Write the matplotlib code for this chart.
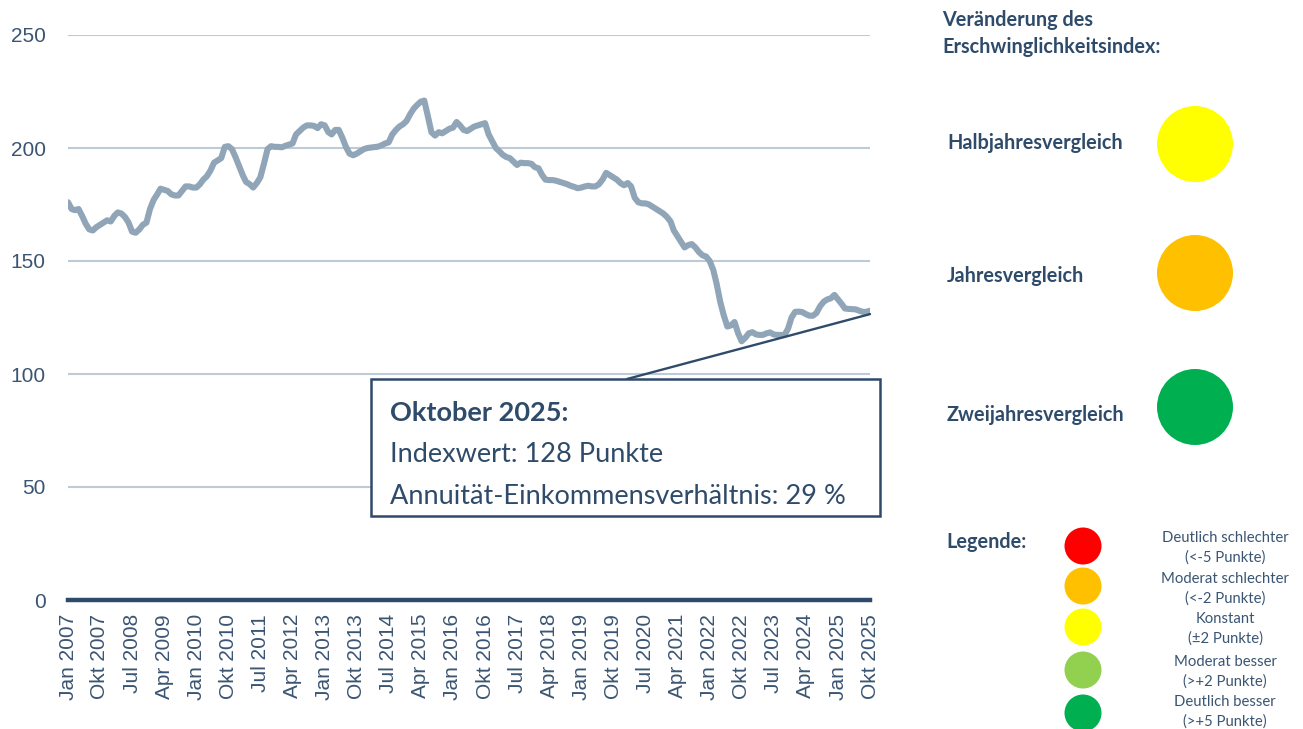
import matplotlib
matplotlib.use('Agg')
import numpy as np
import pandas as pd
import matplotlib.dates as mdates
from matplotlib import pyplot as plt
from matplotlib.patches import Circle, Rectangle, ConnectionPatch

# monthly affordability index, Jan 2007 .. Okt 2025
index_values = [
    176, 173, 172.5, 173, 170, 166.5, 164, 163.5, 165, 166, 167, 168,          # 2007
    167.5, 170, 171.5, 171, 169.5, 167, 163, 162.5, 164, 166, 167, 173,        # 2008
    177, 179.5, 182, 181.5, 181, 179.5, 179, 179, 181, 183, 183, 182.5,        # 2009
    182.5, 184, 186, 187.5, 190, 193.5, 194.5, 195.5, 200.5, 200.8, 199.5, 196,  # 2010
    192, 188, 185, 184, 182.5, 184.5, 187, 193, 199.5, 200.8, 200.5, 200.5,    # 2011
    200.3, 201, 201.5, 202, 206, 207.5, 209, 210, 210, 209.8, 208.8, 210.5,    # 2012
    210, 207, 206, 208, 208, 204.5, 200.5, 197.5, 196.8, 197.5, 198.5, 199.5,  # 2013
    200, 200.2, 200.4, 200.6, 201.2, 202, 202.5, 206, 208, 209.5, 210.5, 212,  # 2014
    215, 217.5, 219, 220.5, 221, 214, 207, 205.5, 207, 206.5, 207.5, 208.5,    # 2015
    209, 211.5, 210, 208, 207.5, 208.5, 209.5, 210, 210.5, 211, 206, 203,      # 2016
    200, 198.5, 197, 196, 195.5, 194, 192.5, 193.5, 193.3, 193.3, 193, 191.5,  # 2017
    191, 188, 186, 185.8, 185.8, 185.5, 185, 184.5, 184, 183.3, 182.8, 182.2,  # 2018
    182.5, 183, 183.3, 183, 183, 184, 186, 189, 188, 187, 186, 184.5,          # 2019
    183.5, 184.5, 183, 178, 176, 175.5, 175.5, 175, 174, 173, 172, 171,        # 2020
    169.5, 167.5, 163.5, 161, 158.5, 156, 157, 157.5, 156, 154, 152.5, 152,    # 2021
    150, 146, 140, 132, 126, 121, 121.5, 123, 118, 114.5, 116, 118,            # 2022
    118.5, 117.5, 117.3, 117.3, 118, 118.4, 117.5, 117.3, 117.3, 117.2, 120, 125,  # 2023
    127.5, 127.6, 127.4, 126.5, 125.8, 125.8, 127, 130, 132, 133, 133.5, 135,  # 2024
    133, 131, 129, 128.8, 128.7, 128.6, 128, 127.5, 127.5, 128,                # 2025
]
dates = pd.date_range('2007-01-01', periods=len(index_values), freq='MS')

tick_labels = [
    'Jan 2007', 'Okt 2007', 'Jul 2008', 'Apr 2009', 'Jan 2010', 'Okt 2010',
    'Jul 2011', 'Apr 2012', 'Jan 2013', 'Okt 2013', 'Jul 2014', 'Apr 2015',
    'Jan 2016', 'Okt 2016', 'Jul 2017', 'Apr 2018', 'Jan 2019', 'Okt 2019',
    'Jul 2020', 'Apr 2021', 'Jan 2022', 'Okt 2022', 'Jul 2023', 'Apr 2024',
    'Jan 2025', 'Okt 2025',
]
y_ticks = [0, 50, 100, 150, 200, 250]

box_title = 'Oktober 2025:'
box_lines = ['Indexwert: 128 Punkte', 'Annuität-Einkommensverhältnis: 29 %']

panel_title = ['Veränderung des', 'Erschwinglichkeitsindex:']
comparisons = ['Halbjahresvergleich', 'Jahresvergleich', 'Zweijahresvergleich']
comparison_colors = ['#ffff00', '#ffc000', '#00b050']

legend_title = 'Legende:'
legend_labels = [
    ('Deutlich schlechter', '(<-5 Punkte)'),
    ('Moderat schlechter', '(<-2 Punkte)'),
    ('Konstant', '(±2 Punkte)'),
    ('Moderat besser', '(>+2 Punkte)'),
    ('Deutlich besser', '(>+5 Punkte)'),
]
legend_colors = ['#ff0000', '#ffc000', '#ffff00', '#92d050', '#00b050']

NAVY = '#2f4b6a'
TEXT = '#3a5573'
LINE = '#91a5b8'
GRID = '#bdcbd8'
PANEL_FONT = ['Lato', 'DejaVu Sans']
TICK_FONT = ['Liberation Sans', 'DejaVu Sans']

W, H = 1303, 729
fig = plt.figure(figsize=(W / 100, H / 100), dpi=100)

# main chart, placed in pixel terms of the reference
ax = fig.add_axes([68 / W, 1 - 600 / H, (870 - 68) / W, (600 - 35) / H])
ax.plot(dates, index_values, color=LINE, lw=4.4, solid_capstyle='round',
        solid_joinstyle='round', zorder=3)
ax.set_xlim(dates[0], dates[-1])
ax.set_ylim(0, 250)
ax.set_yticks(y_ticks)
for y in y_ticks[1:]:
    ax.axhline(y, color=GRID, lw=1.5, zorder=1)
ax.axhline(0, color=NAVY, lw=3.2, zorder=4, clip_on=False)
ax.set_xticks(dates[::9])
ax.set_xticklabels(tick_labels, rotation=90, ha='center', va='top')
for lab in ax.get_xticklabels() + ax.get_yticklabels():
    lab.set_family(TICK_FONT)
    lab.set_fontsize(15)
    lab.set_color(TEXT)
ax.tick_params(axis='both', length=0)
ax.tick_params(axis='x', pad=10)
ax.tick_params(axis='y', pad=16)
for s in ax.spines.values():
    s.set_visible(False)
ax.set_facecolor('none')

# overlay in pixel coordinates for box and side panel
ov = fig.add_axes([0, 0, 1, 1], zorder=10)
ov.set_xlim(0, W)
ov.set_ylim(H, 0)
ov.axis('off')
ov.patch.set_alpha(0)

ov.add_patch(Rectangle((371, 379), 509, 137, facecolor='white', edgecolor=NAVY,
                       lw=1.8, zorder=2))
last_x = mdates.date2num(dates[-1].to_pydatetime())
con = ConnectionPatch(xyA=(627, 379), coordsA=ov.transData,
                      xyB=(last_x, index_values[-1] - 1.5), coordsB=ax.transData,
                      color=NAVY, lw=1.7, zorder=1)
fig.add_artist(con)
ov.text(390, 413, box_title, fontsize=19.5, fontweight='bold', color=NAVY,
        family=PANEL_FONT, va='center')
for i, line in enumerate(box_lines):
    ov.text(390, 454 + i * 42, line, fontsize=19.5, color=NAVY,
            family=PANEL_FONT, va='center')

# side panel
for i, t in enumerate(panel_title):
    ov.text(942, 20 + i * 27, t, fontsize=14.3, fontweight='bold', color=NAVY,
            family=PANEL_FONT, va='center')
for i, (name, col) in enumerate(zip(comparisons, comparison_colors)):
    yc = [144, 273, 407][i]
    ov.text(947, [143, 276, 415][i], name, fontsize=14.3, fontweight='bold',
            color=NAVY, family=PANEL_FONT, va='center')
    ov.add_patch(Circle((1195, yc), 38, facecolor=col, edgecolor='none'))

ov.text(946, 542, legend_title, fontsize=14.3, fontweight='bold', color=NAVY,
        family=PANEL_FONT, va='center')
for i, ((l1, l2), col) in enumerate(zip(legend_labels, legend_colors)):
    yc = [546, 586, 627, 670, 713][i]
    ov.add_patch(Circle((1083, yc), 18.5, facecolor=col, edgecolor='none'))
    yt = [538, 579, 619, 662, 702][i]
    ov.text(1225, yt, l1, fontsize=10.7, color=TEXT, family=PANEL_FONT,
            ha='center', va='center')
    ov.text(1225, yt + 19.5, l2, fontsize=10.7, color=TEXT, family=PANEL_FONT,
            ha='center', va='center')

fig.savefig('out.png', dpi=100)
